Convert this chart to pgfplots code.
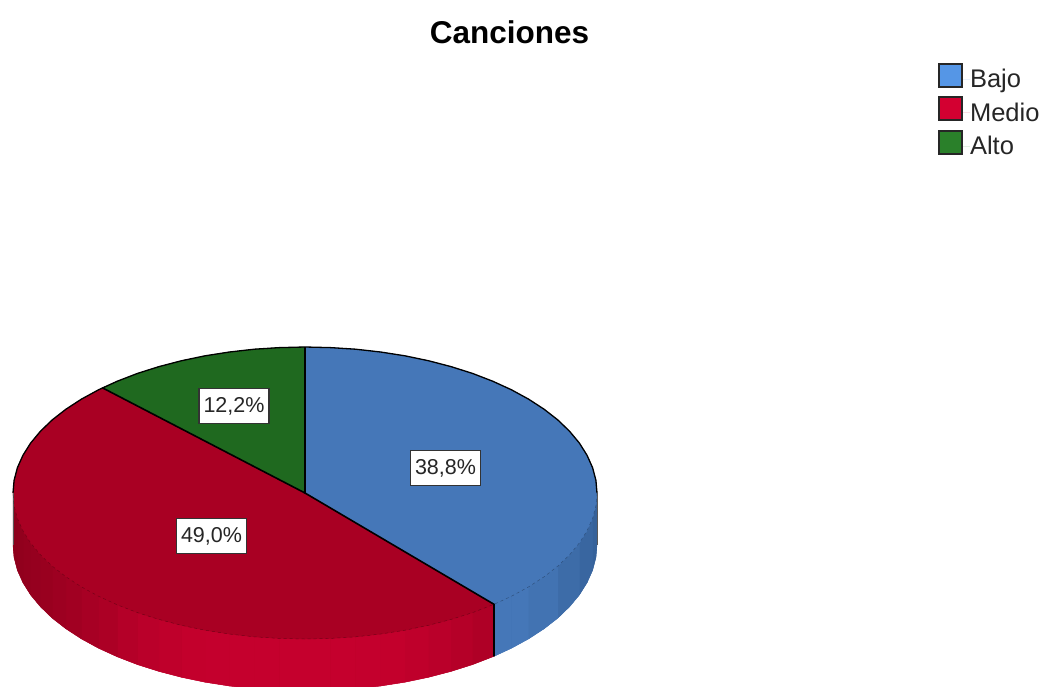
\documentclass[border=0pt]{standalone}
\usepackage{fontspec}
\setmainfont{Liberation Sans}
\usepackage{pgfplots}
\pgfplotsset{compat=1.18}
\definecolor{blueTop}{RGB}{69,119,184}
\definecolor{redTop}{RGB}{169,0,35}
\definecolor{greenTop}{RGB}{31,105,31}
\definecolor{blueKey}{RGB}{85,150,230}
\definecolor{redKey}{RGB}{211,0,49}
\definecolor{greenKey}{RGB}{42,128,42}
\definecolor{blueBase}{RGB}{62,108,170}
\definecolor{redBase}{RGB}{175,0,37}
\pgfplotsset{
  colormap={redwall}{rgb255=(142,0,28) rgb255=(197,0,45)},
  colormap={bluewall}{rgb255=(54,98,154) rgb255=(69,119,184)},
}
\begin{document}
\begin{tikzpicture}
\begin{axis}[
    scale only axis,
    width=1043pt, height=686pt,
    xmin=0, xmax=1043, ymin=0, ymax=686,
    y dir=reverse,
    axis line style={draw=none},
    ticks=none,
    point meta min=0, point meta max=1,
    title={\textbf{Canciones}},
    title style={at={(0.4885,0.9447)}, anchor=center, inner sep=0pt, font=\fontsize{31.5}{32}\selectfont},
    legend cell align=left,
    legend style={
        at={(axis cs:938,62.5)}, anchor=north west, draw=none, fill=none, inner sep=0pt, outer sep=0pt,
        font=\fontsize{25.5}{25.5}\selectfont, text=black!85,
        nodes={inner sep=0pt, outer sep=0pt, minimum height=33.5pt},
        row sep=0pt,
    },
    legend image code/.code={
        \path[draw=none] (0pt,0pt) -- (32pt,0pt);
        \draw[#1, line width=1.6pt] (0.8pt,-7.5pt) rectangle (24pt,15.5pt);},
]
% wall underlay so the strips show no white seams
\addplot[fill=blueBase, draw=none, forget plot] coordinates {
  (597,493) (597,545) (595.9,557.7) (592.6,570.3) (587,582.8) (579.4,594.9) (569.6,606.7) (557.9,618)
  (544.2,628.7) (528.7,638.8) (511.5,648.2) (494,656.3) (494,604.3)
} --cycle;
\addplot[fill=redBase, draw=none, forget plot] coordinates {
  (494,604.3) (494,656.3) (472.5,664.6) (451,671.4) (428.4,677.3) (404.9,682.2) (380.6,686) (355.7,688.8)
  (330.5,690.4) (305,691) (279.5,690.4) (254.3,688.8) (229.4,686) (205.1,682.2) (181.6,677.3) (159,671.4)
  (137.5,664.6) (117.3,656.8) (98.5,648.2) (81.3,638.8) (65.8,628.7) (52.1,618) (40.4,606.7) (30.6,594.9)
  (23,582.8) (17.4,570.3) (14.1,557.7) (13,545) (13,493) (305,600)
} --cycle;
% side wall, blue part
\addplot[patch, patch type=rectangle, shader=flat, colormap name=bluewall, point meta=explicit, forget plot] coordinates {
  (597,493)[0] (595.9,505.7)[0] (595.9,557.7)[0] (597,545)[0]
  (595.9,505.7)[0] (592.6,518.3)[0] (592.6,570.3)[0] (595.9,557.7)[0]
  (592.6,518.3)[.2] (587,530.8)[.2] (587,582.8)[.2] (592.6,570.3)[.2]
  (587,530.8)[.2] (579.4,542.9)[.2] (579.4,594.9)[.2] (587,582.8)[.2]
  (579.4,542.9)[.45] (569.6,554.7)[.45] (569.6,606.7)[.45] (579.4,594.9)[.45]
  (569.6,554.7)[.45] (557.9,566)[.45] (557.9,618)[.45] (569.6,606.7)[.45]
  (557.9,566)[.8] (544.2,576.7)[.8] (544.2,628.7)[.8] (557.9,618)[.8]
  (544.2,576.7)[.8] (528.7,586.8)[.8] (528.7,638.8)[.8] (544.2,628.7)[.8]
  (528.7,586.8)[1] (511.5,596.2)[1] (511.5,648.2)[1] (528.7,638.8)[1]
  (511.5,596.2)[1] (494,604.3)[1] (494,656.3)[1] (511.5,648.2)[1]
};
% side wall, red part
\addplot[patch, patch type=rectangle, shader=flat, colormap name=redwall, point meta=explicit, forget plot] coordinates {
  (494,604.3)[.6] (472.5,612.6)[.6] (472.5,664.6)[.6] (494,656.3)[.6]
  (472.5,612.6)[.7] (451,619.4)[.7] (451,671.4)[.7] (472.5,664.6)[.7]
  (451,619.4)[.8] (428.4,625.3)[.8] (428.4,677.3)[.8] (451,671.4)[.8]
  (428.4,625.3)[.88] (404.9,630.2)[.88] (404.9,682.2)[.88] (428.4,677.3)[.88]
  (404.9,630.2)[.95] (380.6,634)[.95] (380.6,686)[.95] (404.9,682.2)[.95]
  (380.6,634)[.98] (355.7,636.8)[.98] (355.7,688.8)[.98] (380.6,686)[.98]
  (355.7,636.8)[1] (330.5,638.4)[1] (330.5,690.4)[1] (355.7,688.8)[1]
  (330.5,638.4)[1] (305,639)[1] (305,691)[1] (330.5,690.4)[1]
  (305,639)[1] (279.5,638.4)[1] (279.5,690.4)[1] (305,691)[1]
  (279.5,638.4)[1] (254.3,636.8)[1] (254.3,688.8)[1] (279.5,690.4)[1]
  (254.3,636.8)[1] (229.4,634)[1] (229.4,686)[1] (254.3,688.8)[1]
  (229.4,634)[.98] (205.1,630.2)[.98] (205.1,682.2)[.98] (229.4,686)[.98]
  (205.1,630.2)[.95] (181.6,625.3)[.95] (181.6,677.3)[.95] (205.1,682.2)[.95]
  (181.6,625.3)[.88] (159,619.4)[.88] (159,671.4)[.88] (181.6,677.3)[.88]
  (159,619.4)[.8] (137.5,612.6)[.8] (137.5,664.6)[.8] (159,671.4)[.8]
  (137.5,612.6)[.68] (117.3,604.8)[.68] (117.3,656.8)[.68] (137.5,664.6)[.68]
  (117.3,604.8)[.55] (98.5,596.2)[.55] (98.5,648.2)[.55] (117.3,656.8)[.55]
  (98.5,596.2)[.45] (81.3,586.8)[.45] (81.3,638.8)[.45] (98.5,648.2)[.45]
  (81.3,586.8)[.35] (65.8,576.7)[.35] (65.8,628.7)[.35] (81.3,638.8)[.35]
  (65.8,576.7)[.28] (52.1,566)[.28] (52.1,618)[.28] (65.8,628.7)[.28]
  (52.1,566)[.2] (40.4,554.7)[.2] (40.4,606.7)[.2] (52.1,618)[.2]
  (40.4,554.7)[.15] (30.6,542.9)[.15] (30.6,594.9)[.15] (40.4,606.7)[.15]
  (30.6,542.9)[.1] (23,530.8)[.1] (23,582.8)[.1] (30.6,594.9)[.1]
  (23,530.8)[.05] (17.4,518.3)[.05] (17.4,570.3)[.05] (23,582.8)[.05]
  (17.4,518.3)[0] (14.1,505.7)[0] (14.1,557.7)[0] (17.4,570.3)[0]
  (14.1,505.7)[0] (13,493)[0] (13,545)[0] (14.1,557.7)[0]
};
% Bajo 38,8
\addplot[fill=blueTop, draw=blueTop, forget plot] coordinates {
  (305,493) (305,347) (330.5,347.6) (355.7,349.2) (380.6,352) (404.9,355.8) (428.4,360.7) (451,366.6)
  (472.5,373.4) (492.7,381.2) (511.5,389.8) (528.7,399.2) (544.2,409.3) (557.9,420) (569.6,431.3)
  (579.4,443.1) (587,455.2) (592.6,467.7) (595.9,480.3) (597,493) (595.9,505.7) (592.6,518.3)
  (587,530.8) (579.4,542.9) (569.6,554.7) (557.9,566) (544.2,576.7) (528.7,586.8) (511.5,596.2) (494,604.3)
} --cycle;
% Medio 49,0
\addplot[fill=redTop, draw=redTop, forget plot] coordinates {
  (305,493) (494,604.3) (472.5,612.6) (451,619.4) (428.4,625.3) (404.9,630.2) (380.6,634) (355.7,636.8)
  (330.5,638.4) (305,639) (279.5,638.4) (254.3,636.8) (229.4,634) (205.1,630.2) (181.6,625.3) (159,619.4)
  (137.5,612.6) (117.3,604.8) (98.5,596.2) (81.3,586.8) (65.8,576.7) (52.1,566) (40.4,554.7) (30.6,542.9)
  (23,530.8) (17.4,518.3) (14.1,505.7) (13,493) (14.1,480.3) (17.4,467.7) (23,455.2) (30.6,443.1)
  (40.4,431.3) (52.1,420) (65.8,409.3) (81.3,399.2) (98.5,389.8) (102.4,387.8)
} --cycle;
% Alto 12,2
\addplot[fill=greenTop, draw=greenTop, forget plot] coordinates {
  (305,493) (102.4,387.8) (117.3,381.2) (137.5,373.4) (159,366.6) (181.6,360.7) (205.1,355.8)
  (229.4,352) (254.3,349.2) (279.5,347.6) (305,347)
} --cycle;
% back rim
\addplot[black, line width=1.3pt, forget plot] coordinates {
  (13,493) (14.1,480.3) (17.4,467.7) (23,455.2) (30.6,443.1) (40.4,431.3) (52.1,420) (65.8,409.3)
  (81.3,399.2) (98.5,389.8) (117.3,381.2) (137.5,373.4) (159,366.6) (181.6,360.7) (205.1,355.8)
  (229.4,352) (254.3,349.2) (279.5,347.6) (305,347) (330.5,347.6) (355.7,349.2) (380.6,352) (404.9,355.8)
  (428.4,360.7) (451,366.6) (472.5,373.4) (492.7,381.2) (511.5,389.8) (528.7,399.2) (544.2,409.3)
  (557.9,420) (569.6,431.3) (579.4,443.1) (587,455.2) (592.6,467.7) (595.9,480.3) (597,493)
};
% wall edges left and right
\addplot[black!65, line width=.7pt, forget plot] coordinates {(13,493) (13,545)};
\addplot[black!65, line width=.7pt, forget plot] coordinates {(597,493) (597,545)};
% front rim
\addplot[black, opacity=.3, line width=.5pt, dashed, forget plot] coordinates {
  (597,493) (595.9,505.7) (592.6,518.3) (587,530.8) (579.4,542.9) (569.6,554.7) (557.9,566) (544.2,576.7)
  (528.7,586.8) (511.5,596.2) (494,604.3) (472.5,612.6) (451,619.4) (428.4,625.3) (404.9,630.2) (380.6,634)
  (355.7,636.8) (330.5,638.4) (305,639) (279.5,638.4) (254.3,636.8) (229.4,634) (205.1,630.2) (181.6,625.3)
  (159,619.4) (137.5,612.6) (117.3,604.8) (98.5,596.2) (81.3,586.8) (65.8,576.7) (52.1,566) (40.4,554.7)
  (30.6,542.9) (23,530.8) (17.4,518.3) (14.1,505.7) (13,493)
};
% slice edges
\addplot[black, line width=1.6pt, forget plot] coordinates {(305,347) (305,493) (494,604.3) (494,656.3)};
\addplot[black, line width=1.6pt, forget plot] coordinates {(102.4,387.8) (305,493)};
\addlegendimage{fill=blueKey, draw=black!85}
\addlegendentry{Bajo}
\addlegendimage{fill=redKey, draw=black!85}
\addlegendentry{Medio}
\addlegendimage{fill=greenKey, draw=black!85}
\addlegendentry{Alto}
\tikzset{pct/.style={draw=black!80, line width=1.2pt, fill=white, text=black!85, inner sep=0pt,
    minimum width=70pt, minimum height=35pt, font=\fontsize{21.5}{22}\selectfont}}
\node[pct] at (axis cs:445.5,468) {\raisebox{-1.5pt}{38,8\%}};
\node[pct] at (axis cs:211.5,536) {\raisebox{-1.5pt}{49,0\%}};
\node[pct] at (axis cs:234,406) {\raisebox{-1.5pt}{12,2\%}};
\end{axis}
\end{tikzpicture}
\end{document}
